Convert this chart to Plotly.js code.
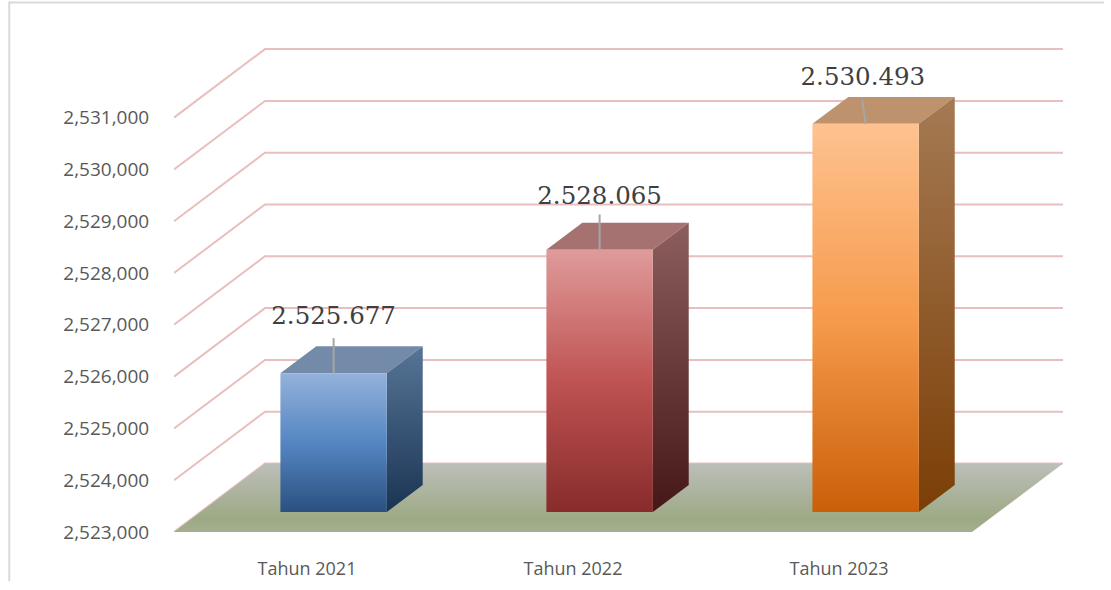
<!DOCTYPE html>
<html>
<head>
<meta charset="utf-8">
<script src="https://cdn.plot.ly/plotly-3.0.1.min.js"></script>
<style>html,body{margin:0;padding:0;background:#fff}#chart{width:1111px;height:590px}</style>
</head>
<body>
<div id="chart"></div>
<script>
// --- data
const categories = ['Tahun 2021', 'Tahun 2022', 'Tahun 2023'];
const values = [2525677, 2528065, 2530493];
const valueLabels = ['2.525.677', '2.528.065', '2.530.493'];
const yTicks = [2523000, 2524000, 2525000, 2526000, 2527000, 2528000, 2529000, 2530000, 2531000];

// --- projection of the pseudo-3D chart (x in category units, y in data units)
const yMin = 2523000;
const wallDx = 0.342, wallDy = 1322;
const barHalf = 0.2, barShift = 0.1, barLift = 386, barDx = 0.135, barDy = 521;
const labelLift = [1080, 1005, 870];
const leadTop = [680, 680, 470];
const leadLean = [0, 0, -0.013];

// --- styles
const gridColor = '#E8BFBE';
const faces = [
  {front: ['#93B2DB', '#5586C2', '#2B5080'], top: '#738AA8', side: ['#567596', '#1B3454']},
  {front: ['#DF9B9A', '#BF5353', '#882B2B'], top: '#A57271', side: ['#8C5F5E', '#451717']},
  {front: ['#FEC290', '#F69B4C', '#CA5F09'], top: '#BD926D', side: ['#A57A53', '#7B3E06']}
];

const traces = [];
function poly(x, y, fillgradient, fillcolor) {
  const t = {x: x, y: y, mode: 'lines', fill: 'toself', line: {width: 0}, hoverinfo: 'skip', showlegend: false};
  if (fillgradient) t.fillgradient = fillgradient; else t.fillcolor = fillcolor;
  traces.push(t);
}
function vgrad(start, stop, stops) {
  return {type: 'vertical', start: start, stop: stop, colorscale: stops};
}

// grid on side and back wall
yTicks.forEach(v => {
  traces.push({
    x: [0, wallDx, categories.length + wallDx],
    y: [v, v + wallDy, v + wallDy],
    mode: 'lines', line: {color: gridColor, width: 2}, hoverinfo: 'skip', showlegend: false, cliponaxis: false
  });
});

// floor
poly([0, wallDx, categories.length + wallDx, categories.length, 0],
     [yMin, yMin + wallDy, yMin + wallDy, yMin, yMin],
     vgrad(yMin + wallDy, yMin, [[0, '#BCBFB9'], [0.8, '#9DA985'], [1, '#A4AF8E']]));

// bars
values.forEach((v, i) => {
  const xc = i + 0.5 + barShift;
  const l = xc - barHalf, r = xc + barHalf;
  const b = yMin + barLift, t = v + barLift;
  const f = faces[i];
  poly([l, r, r + barDx, l + barDx, l], [t, t, t + barDy, t + barDy, t], null, f.top);
  poly([r, r + barDx, r + barDx, r, r], [t, t + barDy, b + barDy, b, t],
       vgrad(t + barDy, b, [[0, f.side[0]], [1, f.side[1]]]));
  poly([l, r, r, l, l], [t, t, b, b, t],
       vgrad(t, b, [[0, f.front[0]], [0.5, f.front[1]], [1, f.front[2]]]));
  // leader
  traces.push({
    x: [xc, xc + leadLean[i]], y: [t, t + leadTop[i]],
    mode: 'lines', line: {color: '#A6A6A6', width: 2}, hoverinfo: 'skip', showlegend: false
  });
  // value label
  traces.push({
    x: [xc + leadLean[i] * 0.8], y: [t + labelLift[i]], text: [valueLabels[i]],
    mode: 'text', textposition: 'middle center', cliponaxis: false,
    textfont: {family: '"DejaVu Serif", serif', size: 24.5, color: '#404040'},
    hoverinfo: 'skip', showlegend: false
  });
});

const layout = {
  width: 1111, height: 590,
  margin: {l: 174, r: 48, t: 40, b: 58, pad: 0},
  paper_bgcolor: '#fff', plot_bgcolor: 'rgba(0,0,0,0)',
  showlegend: false,
  xaxis: {
    range: [0, categories.length + wallDx], showgrid: false, zeroline: false, showline: false,
    tickmode: 'array', tickvals: categories.map((c, i) => i + 0.5), ticktext: categories,
    ticks: 'outside', ticklen: 20, tickcolor: 'rgba(0,0,0,0)',
    tickfont: {family: '"Open Sans", sans-serif', size: 18, color: '#595959'}
  },
  yaxis: {
    range: [yMin, yMin + 492 / 51.8 * 1000], showgrid: false, zeroline: false, showline: false,
    tickmode: 'array', tickvals: yTicks, tickformat: ',d',
    ticks: 'outside', ticklen: 20, tickcolor: 'rgba(0,0,0,0)',
    tickfont: {family: '"Open Sans", sans-serif', size: 19, color: '#595959'}
  },
  shapes: [{
    type: 'path', xref: 'paper', yref: 'paper', layer: 'below',
    path: 'M -0.1853 -0.1 L -0.1853 1.0763 L 1.0462 1.0763',
    line: {color: '#D9D9D9', width: 2}
  }]
};
Plotly.newPlot('chart', traces, layout, {displayModeBar: false, staticPlot: true});
</script>
</body>
</html>
